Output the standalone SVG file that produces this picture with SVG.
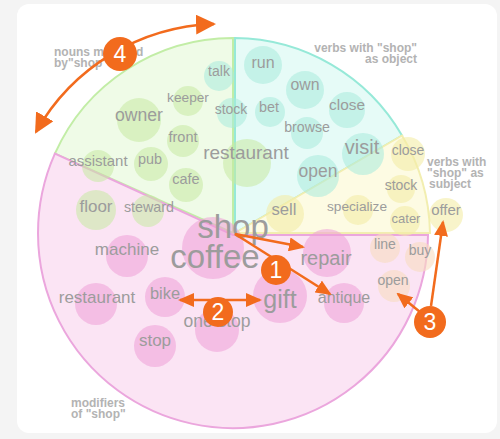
<svg xmlns="http://www.w3.org/2000/svg" width="500" height="439" viewBox="0 0 500 439">
<defs>
<style>
.w{font-family:"Liberation Sans",Arial,sans-serif;fill:#9c9c9c;text-anchor:middle}
.lb{font-family:"Liberation Sans",Arial,sans-serif;font-weight:bold;font-size:12px;fill:#b3b3b3}
.bg{fill:#c6eaa2;fill-opacity:.55}
.bt{fill:#a8ebdc;fill-opacity:.55}
.by{fill:#f4eca6;fill-opacity:.6}
.bp{fill:#ef9fd7;fill-opacity:.55}
.bo{fill:#f8dcc0;fill-opacity:.6}
.ann{stroke:#f26b1d;stroke-width:2.5;fill:none}
.num{fill:#f26b1d}
.nt{font-family:"Liberation Sans",Arial,sans-serif;font-size:23px;fill:#fff;text-anchor:middle}
</style>
<marker id="ah" viewBox="0 0 16 14" refX="14" refY="7" markerWidth="16" markerHeight="14" markerUnits="userSpaceOnUse" orient="auto-start-reverse"><path d="M0,0 L16,7 L0,14 Z" fill="#f26b1d"/></marker>
<marker id="ah2" viewBox="0 0 20 20" refX="18" refY="10" markerWidth="20" markerHeight="20" markerUnits="userSpaceOnUse" orient="auto-start-reverse"><path d="M0,0 L20,10 L0,20 Z" fill="#f26b1d"/></marker>
</defs>
<rect x="0" y="0" width="500" height="439" fill="#f4f4f4"/>
<rect x="17" y="4" width="480" height="429" rx="12" fill="#ffffff"/>

<g id="sectors">
<path id="sector-green" d="M233,233 L233,38 A195,195 0 0 0 54.9,153.7 Z" fill="#effbe7" stroke="#c2eda6" stroke-width="2"/>
<path id="sector-teal" d="M235,233 L235,38 A195,195 0 0 1 402,135.5 Z" fill="#e6fbf7" stroke="#96e9d8" stroke-width="2"/>
<path id="sector-yellow" d="M235,233 L402,135.5 A196,196 0 0 1 430,233 Z" fill="#fdfbe3" stroke="#f2eeb0" stroke-width="2"/>
<path id="sector-pink" d="M233,235 L428,235 A195,195 0 1 1 54.9,153.7 Z" fill="#fbe4f4" stroke="#eba6dd" stroke-width="2"/>
</g>

<g id="labels">
<text class="lb" x="54" y="56">nouns modified</text>
<text class="lb" x="54" y="67">by"shop"</text>
<text class="lb" x="417" y="52" text-anchor="end">verbs with "shop"</text>
<text class="lb" x="417" y="63" text-anchor="end">as object</text>
<text class="lb" x="427" y="166">verbs with</text>
<text class="lb" x="427" y="177">"shop" as</text>
<text class="lb" x="429" y="188">subject</text>
<text class="lb" x="71" y="407">modifiers</text>
<text class="lb" x="71" y="418">of "shop"</text>
</g>

<g id="n-talk"><circle class="bt" cx="219" cy="76" r="15"/><text class="w" x="219" y="76" font-size="14">talk</text></g>
<g id="n-keeper"><circle class="bg" cx="188" cy="101" r="15"/><text class="w" x="188" y="102" font-size="13.7">keeper</text></g>
<g id="n-stock-noun"><circle class="bt" cx="232" cy="113" r="15"/><text class="w" x="231" y="114" font-size="14">stock</text></g>
<g id="n-owner"><circle class="bg" cx="139" cy="120" r="22"/><text class="w" x="139" y="121" font-size="17.6">owner</text></g>
<g id="n-front"><circle class="bg" cx="183" cy="141" r="16"/><text class="w" x="183" y="142" font-size="14.5">front</text></g>
<g id="n-restaurant-noun"><circle class="bg" cx="247" cy="163" r="24"/><text class="w" x="246" y="159" font-size="19">restaurant</text></g>
<g id="n-assistant"><circle class="bg" cx="98" cy="166" r="16"/><text class="w" x="98" y="166" font-size="15">assistant</text></g>
<g id="n-pub"><circle class="bg" cx="151" cy="164" r="17"/><text class="w" x="150" y="164" font-size="14.4">pub</text></g>
<g id="n-cafe"><circle class="bg" cx="186" cy="185" r="17"/><text class="w" x="186" y="184" font-size="14.5">cafe</text></g>
<g id="n-floor"><circle class="bg" cx="96" cy="210" r="20"/><text class="w" x="96" y="212" font-size="17">floor</text></g>
<g id="n-steward"><circle class="bg" cx="148" cy="211" r="16"/><text class="w" x="149" y="212" font-size="14.3">steward</text></g>

<g id="n-run"><circle class="bt" cx="263" cy="65" r="19"/><text class="w" x="263" y="68" font-size="16">run</text></g>
<g id="n-own"><circle class="bt" cx="305" cy="90" r="19"/><text class="w" x="305" y="90" font-size="15.8">own</text></g>
<g id="n-bet"><circle class="bt" cx="270" cy="112" r="15"/><text class="w" x="269" y="112" font-size="14.4">bet</text></g>
<g id="n-close-obj"><circle class="bt" cx="347" cy="110" r="18"/><text class="w" x="347" y="110" font-size="15.4">close</text></g>
<g id="n-browse"><circle class="bt" cx="307" cy="133" r="16"/><text class="w" x="307" y="132" font-size="14.2">browse</text></g>
<g id="n-visit"><circle class="bt" cx="363" cy="154" r="21"/><text class="w" x="362" y="154" font-size="20">visit</text></g>
<g id="n-open-obj"><circle class="bt" cx="318" cy="176" r="21"/><text class="w" x="318" y="177" font-size="17.5">open</text></g>

<g id="n-close-subj"><circle class="by" cx="408" cy="154" r="17"/><text class="w" x="408" y="155" font-size="14">close</text></g>
<g id="n-stock-subj"><circle class="by" cx="401" cy="189" r="14"/><text class="w" x="401" y="190" font-size="14">stock</text></g>
<g id="n-specialize"><circle class="by" cx="358" cy="210" r="15"/><text class="w" x="357" y="211" font-size="13.7">specialize</text></g>
<g id="n-sell"><circle class="by" cx="285" cy="214" r="19"/><text class="w" x="284" y="215" font-size="16.7">sell</text></g>
<g id="n-cater"><circle class="by" cx="405" cy="221" r="15"/><text class="w" x="406" y="223" font-size="13">cater</text></g>
<g id="n-offer"><circle class="by" cx="446" cy="215" r="17"/><text class="w" x="446" y="215" font-size="15">offer</text></g>

<g id="n-line"><circle class="bo" cx="385" cy="248" r="15"/><text class="w" x="385" y="249" font-size="14">line</text></g>
<g id="n-buy"><circle class="bo" cx="420" cy="257" r="15"/><text class="w" x="420" y="255" font-size="14">buy</text></g>
<g id="n-open-subj"><circle class="bo" cx="394" cy="286" r="16"/><text class="w" x="393" y="285" font-size="14">open</text></g>

<g id="n-coffee"><circle class="bp" cx="213" cy="248" r="31"/></g>
<g id="n-repair"><circle class="bp" cx="327" cy="253" r="24"/><text class="w" x="326" y="265" font-size="20">repair</text></g>
<g id="n-gift"><circle class="bp" cx="280" cy="296" r="27"/><text class="w" x="280" y="308" font-size="25">gift</text></g>
<g id="n-antique"><circle class="bp" cx="344" cy="303" r="20"/><text class="w" x="344" y="303" font-size="16">antique</text></g>
<g id="n-machine"><circle class="bp" cx="127" cy="256" r="21"/><text class="w" x="127" y="255" font-size="17">machine</text></g>
<g id="n-restaurant-mod"><circle class="bp" cx="96" cy="304" r="21"/><text class="w" x="97" y="303" font-size="17">restaurant</text></g>
<g id="n-bike"><circle class="bp" cx="165" cy="297" r="20"/><text class="w" x="165" y="299" font-size="16.4">bike</text></g>
<g id="n-onestop"><circle class="bp" cx="217" cy="330" r="22"/><text class="w" x="217" y="327" font-size="17.5">one stop</text></g>
<g id="n-stop"><circle class="bp" cx="155" cy="346" r="21"/><text class="w" x="155" y="346" font-size="17">stop</text></g>
<g id="n-shop"><text class="w" x="233" y="238" font-size="33">shop</text><text class="w" x="215" y="268" font-size="33">coffee</text></g>

<g id="connectors">
<line class="ann" x1="235" y1="234" x2="303" y2="247" marker-end="url(#ah)"/>
<line class="ann" x1="235" y1="234" x2="330" y2="294" marker-end="url(#ah)"/>
<line class="ann" x1="180" y1="300" x2="260" y2="300" marker-start="url(#ah)" marker-end="url(#ah)"/>
<line class="ann" x1="431" y1="306" x2="443" y2="222" marker-end="url(#ah)"/>
<line class="ann" x1="420" y1="312" x2="398" y2="294" marker-end="url(#ah)"/>
<path class="ann" d="M36,132 A212,212 0 0 1 214,24" marker-start="url(#ah2)" marker-end="url(#ah2)"/>
</g>

<g id="badges">
<g id="badge-1"><circle class="num" cx="276" cy="270" r="15"/><text class="nt" x="276" y="278">1</text></g>
<g id="badge-2"><circle class="num" cx="218" cy="312" r="15"/><text class="nt" x="218" y="320">2</text></g>
<g id="badge-3"><circle class="num" cx="430" cy="322" r="16"/><text class="nt" x="430" y="330">3</text></g>
<g id="badge-4"><circle class="num" cx="120" cy="54" r="17"/><text class="nt" x="120" y="62">4</text></g>
</g>
</svg>
